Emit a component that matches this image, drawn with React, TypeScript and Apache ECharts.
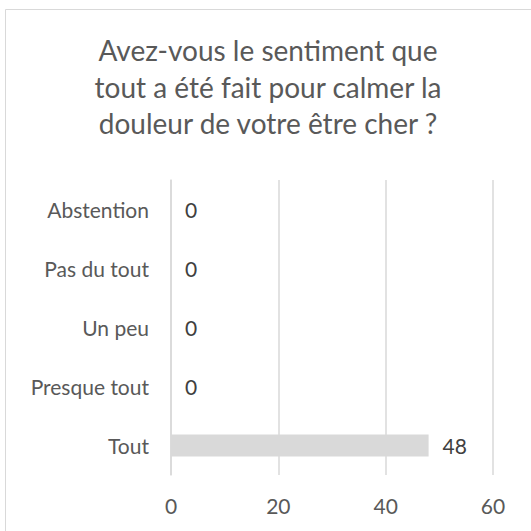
import React, { useEffect, useRef } from "react";
import * as echarts from "echarts";

const categories = ["Tout", "Presque tout", "Un peu", "Pas du tout", "Abstention"];
const values = [48, 0, 0, 0, 0];
const titleText = "Avez-vous le sentiment que\ntout a été fait pour calmer la\ndouleur de votre être cher ?";

export default function App() {
  const ref = useRef<HTMLDivElement>(null);
  useEffect(() => {
    const chart = echarts.init(ref.current!, null, { renderer: "svg" });
    chart.setOption({
      animation: false,
      backgroundColor: "#ffffff",
      textStyle: { fontFamily: "Lato" },
      graphic: [
        {
          type: "rect",
          shape: { x: 5.5, y: 9.5, width: 540, height: 540 },
          style: { fill: "none", stroke: "#d9d9d9", lineWidth: 1 },
          silent: true,
          z: -1,
        },
      ],
      title: {
        text: titleText,
        left: 263,
        textAlign: "center",
        top: 27,
        textStyle: {
          fontFamily: "Lato",
          fontSize: 28,
          fontWeight: "normal",
          color: "#595959",
          lineHeight: 36.5,
        },
      },
      grid: { left: 171, right: 38, top: 180, bottom: 56, containLabel: false },
      xAxis: {
        type: "value",
        min: 0,
        max: 60,
        interval: 20,
        axisLine: { show: false },
        axisTick: { show: false },
        splitLine: { lineStyle: { color: "#d9d9d9", width: 1.5 } },
        axisLabel: { color: "#595959", fontSize: 21, margin: 20, fontFamily: "Lato" },
      },
      yAxis: {
        type: "category",
        data: categories,
        axisLine: { show: true, lineStyle: { color: "#d9d9d9", width: 1.5 } },
        axisTick: { show: false },
        axisLabel: { color: "#595959", fontSize: 21, margin: 22, fontFamily: "Lato" },
      },
      series: [
        {
          type: "bar",
          data: values,
          barWidth: "37%",
          itemStyle: { color: "#d9d9d9" },
          label: {
            show: true,
            position: "right",
            distance: 14,
            color: "#404040",
            fontSize: 21,
            fontFamily: "Lato",
          },
        },
      ],
    });
    return () => chart.dispose();
  }, []);
  return (
    <div
      ref={ref}
      style={{ position: "fixed", left: 0, top: 0, width: 531, height: 531 }}
    />
  );
}
